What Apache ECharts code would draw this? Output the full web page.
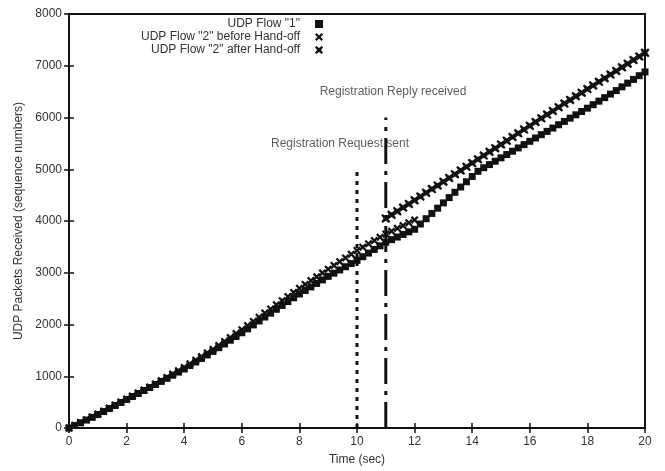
<!DOCTYPE html>
<html>
<head>
<meta charset="utf-8">
<script src="https://cdn.jsdelivr.net/npm/echarts@6/dist/echarts.min.js"></script>
<style>
  html, body { margin: 0; padding: 0; background: #fff; }
  #chart { width: 665px; height: 471px; }
</style>
</head>
<body>
<div id="chart"></div>
<script>
// sample spacing of the plotted sequence numbers (sec)
const sampleStep = 0.2;

// UDP Flow "1" : t = 0 .. 20
const flow1Start = 0;
const flow1 = [
  0, 50, 102, 154, 206, 260, 318, 376, 434, 492, 550,
  608, 666, 724, 782, 840, 900, 960, 1020, 1080, 1140,
  1208, 1276, 1344, 1412, 1480, 1552, 1624, 1696, 1768, 1840,
  1916, 1992, 2068, 2144, 2220, 2294, 2368, 2442, 2516, 2590,
  2658, 2726, 2794, 2862, 2930, 2992, 3054, 3116, 3178, 3240,
  3310, 3380, 3450, 3520, 3590, 3640, 3690, 3740, 3790, 3840,
  3942, 4044, 4146, 4248, 4350, 4452, 4554, 4656, 4758, 4860,
  4960, 5030, 5090, 5155, 5220, 5284, 5348, 5412, 5476, 5540,
  5604, 5668, 5732, 5796, 5860, 5924, 5988, 6052, 6116, 6180,
  6248, 6316, 6384, 6452, 6520, 6592, 6664, 6736, 6808, 6880
];

// UDP Flow "2" before Hand-off : t = 0 .. 12
const flow2BeforeStart = 0;
const flow2Before = [
  0, 52, 106, 160, 214, 270, 328, 386, 444, 502, 560,
  618, 676, 734, 792, 850, 914, 978, 1042, 1106, 1170,
  1240, 1310, 1380, 1450, 1520, 1596, 1672, 1748, 1824, 1900,
  1980, 2060, 2140, 2220, 2300, 2380, 2460, 2540, 2620, 2700,
  2774, 2848, 2922, 2996, 3070, 3142, 3214, 3286, 3358, 3430,
  3494, 3558, 3622, 3686, 3750, 3804, 3858, 3912, 3966, 4020
];

// UDP Flow "2" after Hand-off : t = 11 .. 20
const flow2AfterStart = 11;
const flow2After = [
  4050, 4120, 4190, 4260, 4330, 4400, 4472, 4544, 4616, 4688, 4760,
  4832, 4904, 4976, 5048, 5120, 5192, 5264, 5336, 5408, 5480,
  5552, 5624, 5696, 5768, 5840, 5912, 5984, 6056, 6128, 6200,
  6270, 6340, 6410, 6480, 6550, 6620, 6690, 6760, 6830, 6900,
  6970, 7040, 7110, 7180, 7250
];

// event markers: [time, top of line]
const requestSent = [10, 5000];
const replyReceived = [11, 6000];

// annotation texts: [x, y, text]
const notes = [
  [9.41, 5500, 'Registration Request sent'],
  [11.25, 6500, 'Registration Reply received']
];

const xTicks = { min: 0, max: 20, interval: 2 };
const yTicks = { min: 0, max: 8000, interval: 1000 };

const seriesNames = ['UDP Flow "1"', 'UDP Flow "2" before Hand-off', 'UDP Flow "2" after Hand-off'];

function toPoints(start, values) {
  return values.map((v, i) => [start + i * sampleStep, v]);
}

const ink = '#111';
const textColor = '#333';
const font = 'Liberation Sans, Arial, sans-serif';

// x shaped marker, and a heavier x with a filled middle
const crossSymbol = 'path://M0,2 L2,0 L5,3 L8,0 L10,2 L7,5 L10,8 L8,10 L5,7 L2,10 L0,8 L3,5 Z';
const starSymbol = 'path://M0,1.5 L1.5,0 L5,2.5 L8.5,0 L10,1.5 L7.5,5 L10,8.5 L8.5,10 L5,7.5 L1.5,10 L0,8.5 L2.5,5 Z M3,3 L7,3 L7,7 L3,7 Z';

const chart = echarts.init(document.getElementById('chart'), null, { renderer: 'canvas' });

const tickStyle = { inside: true, length: 5, lineStyle: { color: ink, width: 1.5 } };
const markStyle = { color: ink, opacity: 1 };

const option = {
  backgroundColor: '#fff',
  animation: false,
  textStyle: { fontFamily: font },
  grid: {
    left: 69, right: 20, top: 14, bottom: 41,
    show: true, borderColor: ink, borderWidth: 2, backgroundColor: 'transparent'
  },
  legend: {
    data: seriesNames,
    orient: 'vertical',
    align: 'right',
    left: 136,
    top: 13,
    itemGap: 1,
    itemWidth: 8,
    itemHeight: 8,
    textStyle: { color: textColor, fontSize: 12, lineHeight: 12, fontFamily: font, padding: [0, 10, 0, 0] },
    selectedMode: false
  },
  xAxis: [
    {
      type: 'value', min: xTicks.min, max: xTicks.max, interval: xTicks.interval,
      name: 'Time (sec)', nameLocation: 'middle', nameGap: 26,
      nameTextStyle: { color: textColor, fontSize: 12 },
      axisLine: { show: false },
      axisTick: tickStyle,
      axisLabel: { color: textColor, fontSize: 12, margin: 8 },
      splitLine: { show: false }
    },
    {
      type: 'value', position: 'top', min: xTicks.min, max: xTicks.max, interval: xTicks.interval,
      axisLine: { show: false },
      axisTick: tickStyle,
      axisLabel: { show: false },
      splitLine: { show: false }
    }
  ],
  yAxis: [
    {
      type: 'value', min: yTicks.min, max: yTicks.max, interval: yTicks.interval,
      name: 'UDP Packets Received (sequence numbers)', nameLocation: 'middle', nameGap: 44,
      nameTextStyle: { color: textColor, fontSize: 12 },
      axisLine: { show: false },
      axisTick: tickStyle,
      axisLabel: { color: textColor, fontSize: 12, margin: 7, formatter: v => String(v) },
      splitLine: { show: false }
    },
    {
      type: 'value', position: 'right', min: yTicks.min, max: yTicks.max, interval: yTicks.interval,
      axisLine: { show: false },
      axisTick: tickStyle,
      axisLabel: { show: false },
      splitLine: { show: false }
    }
  ],
  series: [
    {
      name: 'request', type: 'line', symbol: 'none', silent: true,
      data: [[requestSent[0], 0], requestSent],
      lineStyle: { color: ink, width: 3, type: [4, 5], cap: 'butt' }
    },
    {
      name: 'reply', type: 'line', symbol: 'none', silent: true,
      data: [[replyReceived[0], 0], replyReceived],
      lineStyle: { color: ink, width: 3, type: [26, 7, 4, 7], cap: 'butt' }
    },
    {
      name: seriesNames[0], type: 'scatter', symbol: 'rect', symbolSize: 7,
      itemStyle: markStyle,
      data: toPoints(flow1Start, flow1)
    },
    {
      name: seriesNames[1], type: 'scatter', symbol: crossSymbol, symbolSize: 8,
      itemStyle: markStyle,
      data: toPoints(flow2BeforeStart, flow2Before)
    },
    {
      name: seriesNames[2], type: 'scatter', symbol: starSymbol, symbolSize: 9,
      itemStyle: markStyle,
      data: toPoints(flow2AfterStart, flow2After)
    },
    {
      name: 'notes', type: 'scatter', symbolSize: 0, silent: true,
      data: notes.map(n => ({ value: [n[0], n[1]], name: n[2] })),
      label: {
        show: true, position: 'inside', formatter: '{b}',
        color: textColor, fontSize: 12, fontFamily: font
      }
    }
  ]
};

chart.setOption(option);
</script>
</body>
</html>
